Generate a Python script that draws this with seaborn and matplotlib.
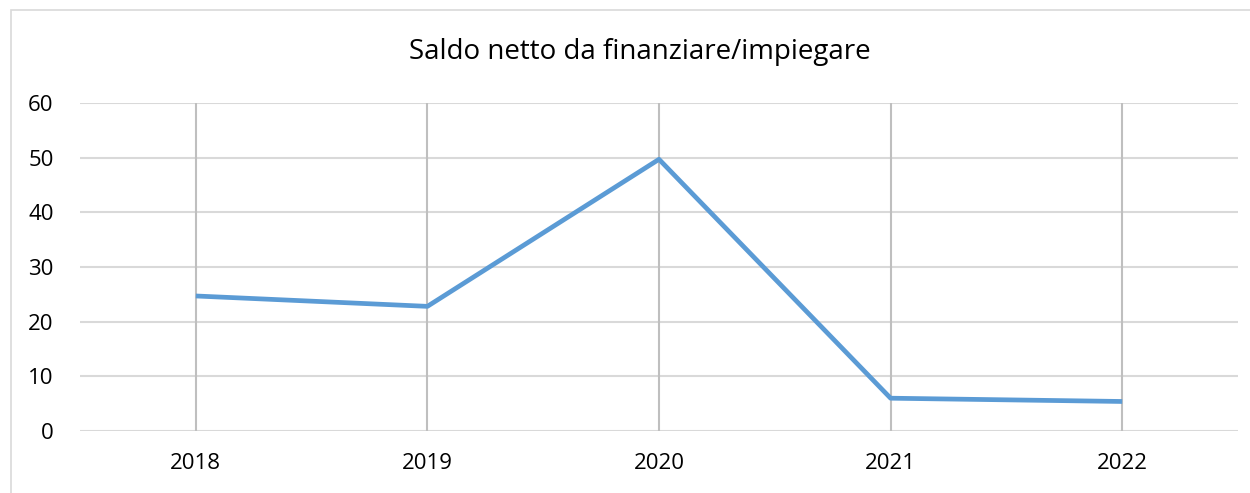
import matplotlib
matplotlib.use("Agg")
import matplotlib.pyplot as plt
from matplotlib.patches import Rectangle
import seaborn as sns
import pandas as pd

years = ["2018", "2019", "2020", "2021", "2022"]
values = [24.7, 22.8, 49.7, 6.0, 5.4]
title = "Saldo netto da finanziare/impiegare"
yticks = [0, 10, 20, 30, 40, 50, 60]

sns.set_theme(style="white")
plt.rcParams["font.family"] = ["Open Sans", "DejaVu Sans"]

df = pd.DataFrame({"year": years, "value": values})

W, H = 1250, 493
fig = plt.figure(figsize=(W / 100, H / 100), dpi=100)
ax = fig.add_axes([80 / W, 1 - 431 / H, (1238 - 80) / W, (431 - 103) / H])

sns.lineplot(data=df, x="year", y="value", ax=ax, color="#5B9BD5",
             linewidth=3.4, sort=False, solid_capstyle="butt")

ax.set_ylim(0, 60)
ax.set_xlim(-0.5, len(years) - 0.5)
ax.set_yticks(yticks)
ax.set_yticklabels([str(v) for v in yticks])
ax.set_xlabel("")
ax.set_ylabel("")

for y in yticks:
    ax.axhline(y, color="#d9d9d9", linewidth=1.5, zorder=0)
for i in range(len(years)):
    ax.axvline(i, color="#bfbfbf", linewidth=1.5, zorder=0.5)

for s in ax.spines.values():
    s.set_visible(False)
ax.tick_params(axis="both", length=0, labelsize=16, colors="#000000")
ax.tick_params(axis="y", pad=19)
ax.tick_params(axis="x", pad=16)

fig.text(640 / W, 1 - 52 / H, title, ha="center", va="center",
         fontsize=20, color="#000000")

fig.patches.append(Rectangle((11 / W, -0.1), 1.2, 1 - 10 / H + 0.1,
                             transform=fig.transFigure, fill=False,
                             edgecolor="#d9d9d9", linewidth=1.2))

fig.savefig("out.png", dpi=100)
